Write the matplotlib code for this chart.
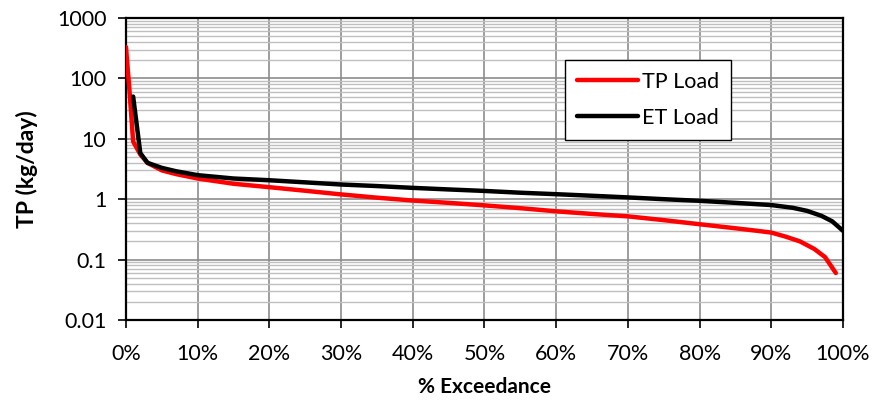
import matplotlib.pyplot as plt
from matplotlib.ticker import FixedLocator, LogLocator, NullFormatter, PercentFormatter

# Load duration curves (percent of time exceeded vs load)
tp_exceed = [0, 0.5, 1, 2, 3, 5, 7, 10, 15, 20, 25, 30, 35, 40, 45, 50, 55, 60,
             65, 70, 75, 80, 85, 88, 90, 92, 94, 96, 97.5, 99]
tp_load = [330, 60, 9, 5.5, 4.0, 3.0, 2.6, 2.2, 1.8, 1.58, 1.38, 1.2, 1.06, 0.95,
           0.87, 0.79, 0.71, 0.63, 0.57, 0.52, 0.45, 0.385, 0.33, 0.30, 0.28,
           0.24, 0.20, 0.15, 0.11, 0.06]

et_exceed = [1, 2, 3, 5, 7, 10, 15, 20, 25, 30, 35, 40, 45, 50, 55, 60, 65, 70,
             75, 80, 85, 90, 93, 95, 97, 98.5, 100]
et_load = [50, 5.8, 4.0, 3.3, 2.9, 2.5, 2.2, 2.06, 1.9, 1.75, 1.65, 1.54, 1.45,
           1.37, 1.28, 1.21, 1.14, 1.07, 1.0, 0.94, 0.87, 0.8, 0.72, 0.64, 0.53,
           0.43, 0.30]

plt.rcParams['font.family'] = ['Lato', 'DejaVu Sans']

fig = plt.figure(figsize=(8.76, 4.08), dpi=100)
ax = fig.add_axes([0.1438, 0.2157, 0.8185, 0.7402])

ax.plot(tp_exceed, tp_load, color='#ff0000', lw=3.2, label='TP Load',
        solid_capstyle='round', zorder=3)
ax.plot(et_exceed, et_load, color='black', lw=3.2, label='ET Load',
        solid_capstyle='round', zorder=4)

ax.set_yscale('log')
ax.set_ylim(0.01, 1000)
ax.set_xlim(0, 100)

ax.xaxis.set_major_locator(FixedLocator(range(0, 101, 10)))
ax.xaxis.set_major_formatter(PercentFormatter(100, decimals=0))
ax.yaxis.set_minor_locator(LogLocator(base=10, subs=range(2, 10), numticks=20))
ax.yaxis.set_minor_formatter(NullFormatter())
ax.set_yticks([0.01, 0.1, 1, 10, 100, 1000])
ax.set_yticklabels(['0.01', '0.1', '1', '10', '100', '1000'])

ax.grid(True, which='major', axis='x', color='#8c8c8c', lw=1.2)
ax.grid(True, which='major', axis='y', color='#8c8c8c', lw=1.2)
ax.grid(True, which='minor', axis='y', color='#bfbfbf', lw=1.0)
ax.set_axisbelow(True)

for side in ax.spines.values():
    side.set_color('black')
    side.set_linewidth(1.6)

ax.tick_params(axis='both', which='major', direction='out', length=6, width=1.2,
               labelsize=15.5, colors='black')
ax.tick_params(axis='x', which='major', pad=11)
ax.tick_params(axis='y', which='major', pad=8)
ax.tick_params(axis='y', which='minor', length=0)

ax.set_xlabel('% Exceedance', fontsize=15, fontweight='bold', labelpad=10)
ax.set_ylabel('TP (kg/day)', fontsize=16.5, fontweight='bold', labelpad=14)

leg = ax.legend(loc='upper left', bbox_to_anchor=(0.613, 0.861), fontsize=15.5,
                frameon=True, fancybox=False, edgecolor='black', framealpha=1,
                handlelength=2.8, handletextpad=0.2, borderpad=0.55,
                labelspacing=0.75, borderaxespad=0)
leg.get_frame().set_linewidth(1.0)

fig.savefig('out.png', dpi=100)
